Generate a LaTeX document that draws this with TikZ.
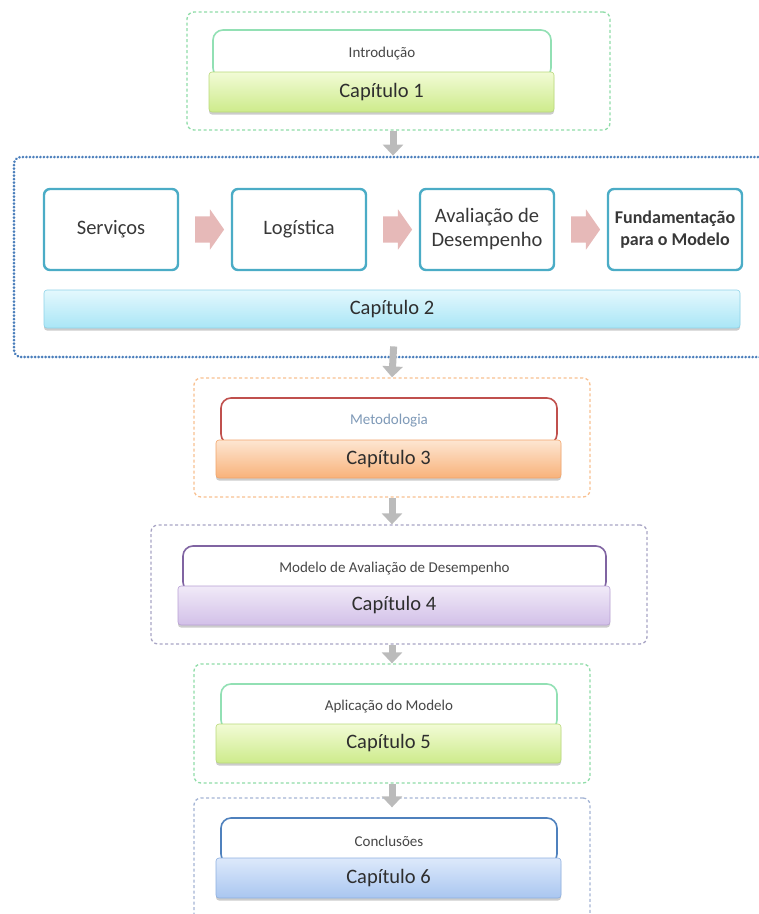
\documentclass[tikz,border=0pt]{standalone}
\usepackage{fontspec}
\setmainfont{Carlito}
\usepackage{xcolor}
\usetikzlibrary{shapes.arrows,positioning,calc,shadows,arrows.meta}

\definecolor{grpgreen}{HTML}{8FDCA8}
\definecolor{grpblue}{HTML}{4A7EBB}
\definecolor{grporange}{HTML}{F8C090}
\definecolor{grppurple}{HTML}{A8A4C4}
\definecolor{grpsteel}{HTML}{A4B4D4}
\definecolor{tabgreen}{HTML}{92E0B4}
\definecolor{tabred}{HTML}{C0504D}
\definecolor{tabpurple}{HTML}{8064A2}
\definecolor{tabblue}{HTML}{4F81BD}
\definecolor{teal}{HTML}{4BACC6}
\definecolor{pinkarr}{HTML}{E6B9B8}
\definecolor{arrgray}{HTML}{BBBBBB}
\definecolor{labelblue}{HTML}{7F9AB8}
% bar shadings
\definecolor{limetop}{HTML}{F2FBD6}
\definecolor{limebot}{HTML}{CDEB8B}
\definecolor{limeline}{HTML}{B9D97A}
\definecolor{cyantop}{HTML}{E4F8FD}
\definecolor{cyanbot}{HTML}{A9E6F6}
\definecolor{cyanline}{HTML}{8DD3E8}
\definecolor{orangetop}{HTML}{FDE6D2}
\definecolor{orangebot}{HTML}{F8B27A}
\definecolor{orangeline}{HTML}{F2A46A}
\definecolor{violettop}{HTML}{F1EAF8}
\definecolor{violetbot}{HTML}{D2C0E8}
\definecolor{violetline}{HTML}{B8A0D4}
\definecolor{skytop}{HTML}{DDE9FB}
\definecolor{skybot}{HTML}{A9C6F0}
\definecolor{skyline}{HTML}{8EB0E0}

\begin{document}
\begin{tikzpicture}[
    x=1pt, y=-1pt,
    node distance=51.6pt,
    group/.style={draw=#1, rounded corners=7pt, line width=1.3pt, dash pattern=on 3pt off 2.5pt, inner sep=0pt},
    tab/.style={draw=#1, fill=white, rounded corners=10pt, line width=1.6pt, inner sep=0pt, font=\fontsize{15}{17}\selectfont, text=black!72},
    bar/.style n args={3}{rectangle, rounded corners=3pt, top color=#1, bottom color=#2, draw=#3, line width=0.6pt, inner sep=0pt,
        font=\fontsize{20.5}{22}\selectfont, text=black!82, drop shadow={shadow xshift=0pt, shadow yshift=-2.5pt, opacity=0.4}},
    topic/.style={rectangle, draw=teal, line width=2.4pt, rounded corners=6pt, fill=white, minimum width=134pt, minimum height=81pt,
        inner sep=2pt, align=center, font=\fontsize{20.5}{24}\selectfont, text=black!78},
    blockarrow/.style={single arrow, fill=pinkarr, draw=none, inner xsep=0pt, inner ysep=13pt, minimum height=29pt,
        single arrow head extend=7pt, single arrow tip angle=110},
    downarrow/.style={-{Triangle[width=20pt,length=11pt]}, line width=7pt, draw=arrgray}
]
    \useasboundingbox (0,0) rectangle (759,914);
    \clip (0,0) rectangle (759,914);

    % Capitulo 1
    \node[group=grpgreen, minimum width=423pt, minimum height=118pt] (g1) at (398.5,71) {};
    \node[tab=tabgreen, minimum width=338pt, minimum height=48pt] (t1) at (382,54) {Introdução};
    \node[bar={limetop}{limebot}{limeline}, minimum width=345pt, minimum height=40pt] (b1) at (381.5,92) {Capítulo 1};

    % Capitulo 2
    \node[group=grpblue, line width=2.8pt, dash pattern=on 0.1pt off 3.4pt, line cap=round, minimum width=758pt, minimum height=200pt] (g2) at (393,257) {};
    \node[topic] (s1) at (111,229.5) {Serviços};
    \node[topic, right=of s1] (s2) {Logística};
    \node[topic, right=of s2] (s3) {Avaliação de\\Desempenho};
    \node[topic, right=of s3, font=\fontsize{18}{22}\selectfont\bfseries] (s4) {Fundamentação\\para o Modelo};
    \node[blockarrow] (a1) at ($(s1.east)!0.5!(s2.west)$) {};
    \node[blockarrow] (a2) at ($(s2.east)!0.5!(s3.west)$) {};
    \node[blockarrow] (a3) at ($(s3.east)!0.5!(s4.west)$) {};
    \node[bar={cyantop}{cyanbot}{cyanline}, minimum width=696pt, minimum height=38pt] (b2) at (392,309) {Capítulo 2};

    % Capitulo 3
    \node[group=grporange, minimum width=396pt, minimum height=119pt] (g3) at (392,437.5) {};
    \node[tab=tabred, minimum width=336pt, minimum height=46pt, text=labelblue] (t3) at (389,421) {Metodologia};
    \node[bar={orangetop}{orangebot}{orangeline}, minimum width=345pt, minimum height=38pt] (b3) at (388.5,459) {Capítulo 3};

    % Capitulo 4
    \node[group=grppurple, minimum width=496pt, minimum height=119pt] (g4) at (399,584.5) {};
    \node[tab=tabpurple, minimum width=423pt, minimum height=46pt] (t4) at (394.5,569) {Modelo de Avaliação de Desempenho};
    \node[bar={violettop}{violetbot}{violetline}, minimum width=432pt, minimum height=39pt] (b4) at (394,605.5) {Capítulo 4};

    % Capitulo 5
    \node[group=grpgreen, minimum width=396pt, minimum height=119pt] (g5) at (392,723.5) {};
    \node[tab=tabgreen, minimum width=336pt, minimum height=46pt] (t5) at (389,707) {Aplicação do Modelo};
    \node[bar={limetop}{limebot}{limeline}, minimum width=345pt, minimum height=39pt] (b5) at (388.5,743.5) {Capítulo 5};

    % Capitulo 6
    \node[group=grpsteel, minimum width=396pt, minimum height=137pt] (g6) at (392,866.5) {};
    \node[tab=tabblue, minimum width=336pt, minimum height=46pt] (t6) at (389,841) {Conclusões};
    \node[bar={skytop}{skybot}{skyline}, minimum width=345pt, minimum height=40pt] (b6) at (388.5,878) {Capítulo 6};

    \draw[downarrow] (g1.south -| g2.north) -- (g2.north);
    \draw[downarrow, shorten <=-12pt] (g2.south) -- (g3.north);
    \draw[downarrow] (g3.south) -- (g4.north -| g3.north);
    \draw[downarrow] (g4.south -| g5.north) -- (g5.north);
    \draw[downarrow, shorten >=-10pt] (g5.south) -- (g6.north);
\end{tikzpicture}
\end{document}
